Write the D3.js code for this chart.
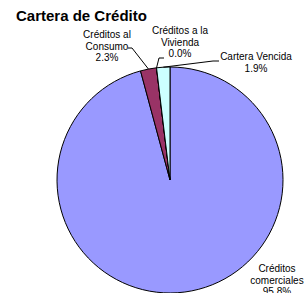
<!DOCTYPE html>
<html>
<head>
<meta charset="utf-8">
<script src="https://cdn.jsdelivr.net/npm/d3@7"></script>
<style>
  html, body { margin: 0; padding: 0; background: #fff; }
  svg { display: block; }
  text { font-family: Arial, "Liberation Sans", sans-serif; }
</style>
</head>
<body>
<svg id="chart" width="308" height="293"></svg>
<script>
const title = "Cartera de Crédito";
const categories = ["Créditos comerciales", "Créditos al Consumo", "Créditos a la Vivienda", "Cartera Vencida"];
const values = [95.8, 2.3, 0.0, 1.9];
const valueLabels = ["95.8%", "2.3%", "0.0%", "1.9%"];
const labelLines = [["Créditos", "comerciales"], ["Créditos al", "Consumo"], ["Créditos a la", "Vivienda"], ["Cartera Vencida"]];
const colors = ["#9999FF", "#993366", "#FFFFCC", "#CCFFFF"];

const svg = d3.select("#chart");
const cx = 170, cy = 180, r = 113;

svg.append("text")
  .attr("x", 16).attr("y", 21)
  .attr("font-size", 15).attr("font-weight", "bold")
  .text(title);

const pie = d3.pie().sort(null).value(d => d).startAngle(0).endAngle(2 * Math.PI);
const arcs = pie(values);
const arc = d3.arc().innerRadius(0).outerRadius(r);

const g = svg.append("g").attr("transform", `translate(${cx},${cy})`);
g.selectAll("path").data(arcs).enter().append("path")
  .attr("d", arc)
  .attr("fill", (d, i) => colors[i])
  .attr("stroke", "#000")
  .attr("stroke-width", 1);

// label layout: anchor center x, first baseline y, leader elbow
const layout = [
  { x: 277, y: 272, leader: null },
  { x: 107, y: 38, leader: [[128, 48], [132, 48]] },
  { x: 180, y: 34, leader: [[164, 58], [159, 58]] },
  { x: 256, y: 60, leader: [[219, 61], [213, 61]] }
];
const lh = 11.5;

arcs.forEach((a, i) => {
  const L = layout[i];
  const lines = labelLines[i].concat([valueLabels[i]]);
  const t = svg.append("text")
    .attr("font-size", 10)
    .attr("text-anchor", "middle")
    .attr("fill", "#000");
  lines.forEach((s, k) => {
    t.append("tspan").attr("x", L.x).attr("y", L.y + k * lh).text(s);
  });
  if (L.leader) {
    const mid = (a.startAngle + a.endAngle) / 2;
    const px = cx + r * Math.sin(mid), py = cy - r * Math.cos(mid);
    const pts = L.leader.concat([[px, py]]);
    svg.append("path")
      .attr("d", d3.line()(pts))
      .attr("fill", "none")
      .attr("stroke", "#000")
      .attr("stroke-width", 1);
  }
});
</script>
</body>
</html>
